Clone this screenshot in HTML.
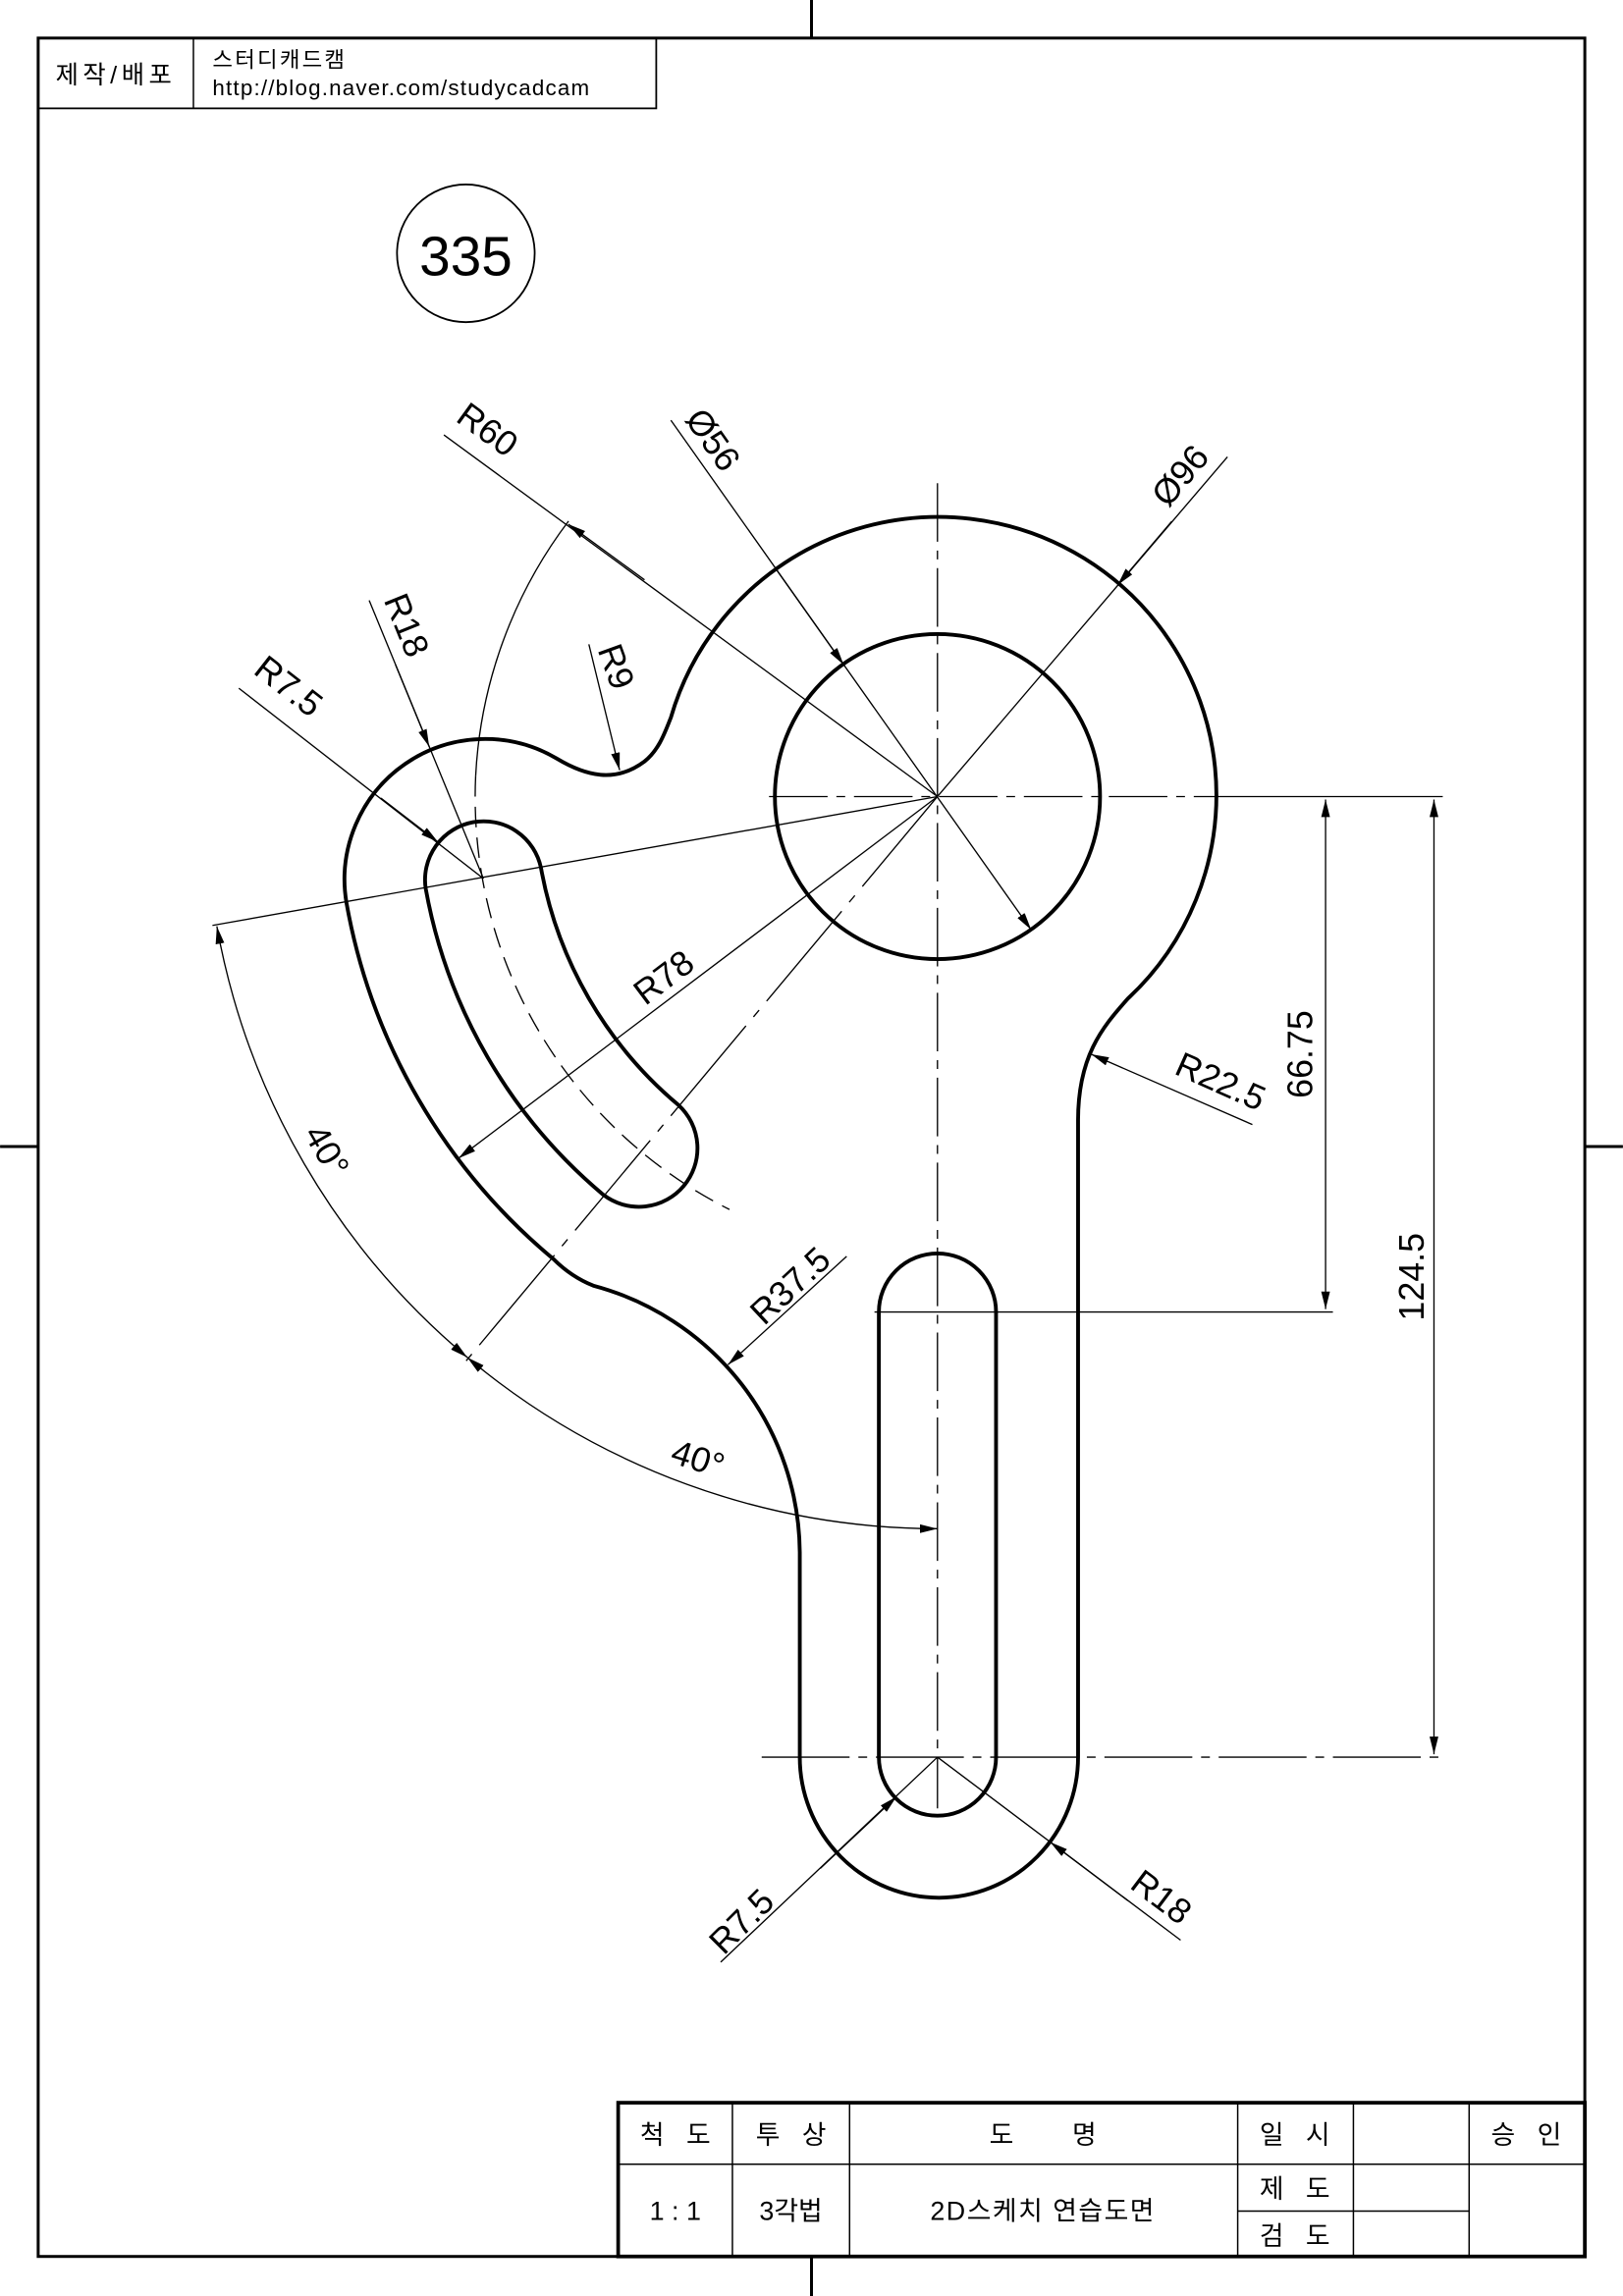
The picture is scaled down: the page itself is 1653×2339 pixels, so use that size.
<!DOCTYPE html>
<html><head><meta charset="utf-8"><style>
html,body{margin:0;padding:0;background:#fff}
svg{display:block}
text{font-family:"Liberation Sans","Noto Sans CJK KR",sans-serif;fill:#000;white-space:pre}
</style></head><body>
<svg width="1653" height="2339" viewBox="0 0 1108 1568" xmlns="http://www.w3.org/2000/svg" xml:space="preserve">
<defs>
<marker id="a" viewBox="0 0 12 6" refX="12" refY="3" markerWidth="12" markerHeight="6" markerUnits="userSpaceOnUse" orient="auto-start-reverse"><path d="M0,0 L12,3 L0,6 z" fill="#000"/></marker>
</defs>
<rect width="1108" height="1568" fill="#fff"/>
<rect x="26" y="26" width="1056" height="1515" fill="none" stroke="#000" stroke-width="2"/>
<g stroke="#000" stroke-width="2">
<line x1="554" y1="0" x2="554" y2="26"/><line x1="554" y1="1541" x2="554" y2="1568"/>
<line x1="0" y1="783" x2="26" y2="783"/><line x1="1082" y1="783" x2="1108" y2="783"/>
</g>
<rect x="26" y="26" width="422" height="48" fill="none" stroke="#000" stroke-width="1.2"/>
<line x1="132" y1="26" x2="132" y2="74" stroke="#000" stroke-width="1"/>
<text x="79" y="57" font-size="17" text-anchor="middle" letter-spacing="3">제작/배포</text>
<text x="145" y="46" font-size="15" letter-spacing="1.5">스터디캐드캠</text>
<text x="145" y="65" font-size="15" letter-spacing="0.8">http://blog.naver.com/studycadcam</text>
<circle cx="318" cy="173" r="47" fill="none" stroke="#000" stroke-width="1.2"/>
<text x="318" y="188" font-size="38" text-anchor="middle">335</text>

<g stroke="#000" stroke-width="1" fill="none">
<rect x="422" y="1436" width="660" height="105" stroke-width="2.5"/>
<line x1="422" y1="1478" x2="1082" y2="1478"/>
<line x1="845" y1="1510" x2="1003" y2="1510"/>
<line x1="500" y1="1436" x2="500" y2="1541"/>
<line x1="580" y1="1436" x2="580" y2="1541"/>
<line x1="845" y1="1436" x2="845" y2="1541"/>
<line x1="924" y1="1436" x2="924" y2="1541"/>
<line x1="1003" y1="1436" x2="1003" y2="1541"/>
</g>
<g font-size="18" text-anchor="middle">
<text x="461" y="1464">척   도</text>
<text x="540" y="1464">투   상</text>
<text x="712" y="1464">도        명</text>
<text x="884" y="1464">일   시</text>
<text x="1042" y="1464">승   인</text>
<text x="461" y="1516">1 : 1</text>
<text x="540" y="1516">3각법</text>
<text x="712" y="1516" letter-spacing="1">2D스케치 연습도면</text>
<text x="884" y="1501">제   도</text>
<text x="884" y="1533">검   도</text>
</g>

<g stroke="#000" stroke-width="0.9" fill="none">
<line x1="525" y1="544" x2="830" y2="544" stroke-dasharray="40,6,6,6"/>
<line x1="830" y1="544" x2="985" y2="544"/>
<line x1="640" y1="330" x2="640" y2="1235" stroke-dasharray="40,6,6,6"/>
<line x1="597" y1="896" x2="910" y2="896"/>
<line x1="520" y1="1200" x2="985" y2="1200" stroke-dasharray="60,6,6,6"/>
<path d="M 388.1 355.9 A 315 315 0 0 0 324.7 530" />
<path d="M 324.7 530 A 315 315 0 0 0 498 826" stroke-dasharray="14,7"/>
</g>

<g stroke="#000" stroke-width="2.6" fill="none" stroke-linejoin="round">
<path d="M 458 490 A 190 190 0 1 1 770 682 C 752 702 736 722 736 765 L 736 1200 A 95 96 0 0 1 546 1200 L 546 1060 A 190 190 0 0 0 405 878 Q 390 872 378 860 A 410 410 0 0 1 236.5 616.6 A 96 96 0 0 1 380 518 C 400 530 420 535 440 520 C 450 512 454 500 458 490 Z"/>
<circle cx="640" cy="544" r="111"/>
<path d="M 600 896 A 40 40 0 0 1 680 896 L 680 1200 A 40 40 0 0 1 600 1200 Z"/>
<path d="M 290.6 606.9 A 355 355 0 0 0 411.8 815.9 A 40 40 0 0 0 463.2 754.7 A 275 275 0 0 1 369.3 592.7 A 40 40 0 0 0 290.6 606.9 Z"/>
</g>

<g stroke="#000" stroke-width="0.9" fill="none">
<line x1="905" y1="546" x2="905" y2="894" marker-start="url(#a)" marker-end="url(#a)"/>
<line x1="979" y1="546" x2="979" y2="1198" marker-start="url(#a)" marker-end="url(#a)"/>
<line x1="838" y1="312" x2="640" y2="544"/>
<line x1="800" y1="356" x2="763" y2="399.5" marker-end="url(#a)"/>
<line x1="458" y1="287" x2="704" y2="635" marker-end="url(#a)"/>
<line x1="530" y1="389" x2="576" y2="454" marker-end="url(#a)"/>
<line x1="303" y1="297" x2="640" y2="544"/>
<line x1="440" y1="396" x2="388" y2="358" marker-end="url(#a)"/>
<line x1="252" y1="410" x2="330" y2="600"/>
<line x1="270" y1="454" x2="293" y2="510" marker-end="url(#a)"/>
<line x1="163" y1="470" x2="330" y2="600"/>
<line x1="260" y1="545" x2="299" y2="575" marker-end="url(#a)"/>
<line x1="402" y1="440" x2="423" y2="526" marker-end="url(#a)"/>
<line x1="640" y1="544" x2="313" y2="791" marker-end="url(#a)"/>
<line x1="640" y1="544" x2="145" y2="632"/>
<line x1="640" y1="544" x2="316" y2="932" stroke-dasharray="80,8,6,8"/>
<path d="M 148 632.6 A 500 500 0 0 0 319 927" marker-start="url(#a)" marker-end="url(#a)"/>
<path d="M 319 927 A 500 500 0 0 0 640 1044" marker-start="url(#a)" marker-end="url(#a)"/>
<line x1="578" y1="858" x2="497" y2="932" marker-end="url(#a)"/>
<line x1="855" y1="768" x2="745" y2="720" marker-end="url(#a)"/>
<line x1="492" y1="1340" x2="640" y2="1200"/>
<line x1="560" y1="1276" x2="612" y2="1227" marker-end="url(#a)"/>
<line x1="640" y1="1200" x2="806" y2="1325"/>
<line x1="770" y1="1298" x2="717" y2="1258" marker-end="url(#a)"/>
</g>

<g font-size="24">
<text transform="translate(896,720) rotate(-90)" text-anchor="middle">66.75</text>
<text transform="translate(972,872) rotate(-90)" text-anchor="middle">124.5</text>
<text transform="translate(812,330) rotate(-50)" text-anchor="middle">Ø96</text>
<text transform="translate(480,305) rotate(55)" text-anchor="middle">Ø56</text>
<text transform="translate(328,300) rotate(36)" text-anchor="middle">R60</text>
<text transform="translate(270,430) rotate(68)" text-anchor="middle">R18</text>
<text transform="translate(192,475) rotate(38)" text-anchor="middle">R7.5</text>
<text transform="translate(413,458) rotate(70)" text-anchor="middle">R9</text>
<text transform="translate(458,674) rotate(-37)" text-anchor="middle">R78</text>
<text transform="translate(216,790) rotate(60)" text-anchor="middle">40°</text>
<text transform="translate(474,1004) rotate(18)" text-anchor="middle">40°</text>
<text transform="translate(545,884) rotate(-43)" text-anchor="middle">R37.5</text>
<text transform="translate(830,746) rotate(24)" text-anchor="middle">R22.5</text>
<text transform="translate(512,1318) rotate(-45)" text-anchor="middle">R7.5</text>
<text transform="translate(788,1302) rotate(37)" text-anchor="middle">R18</text>
</g>
</svg>
</body></html>
